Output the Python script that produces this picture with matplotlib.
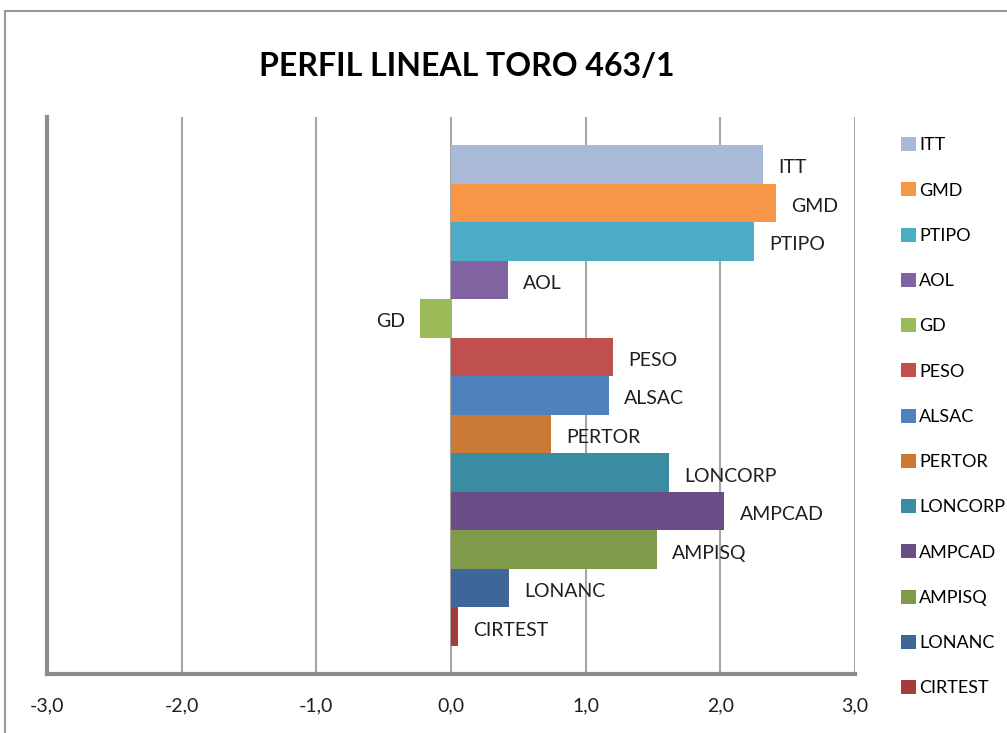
import matplotlib
matplotlib.use('Agg')
import matplotlib.pyplot as plt
from matplotlib.patches import Rectangle, Patch
import numpy as np

# datos del perfil lineal
rasgos = ['ITT', 'GMD', 'PTIPO', 'AOL', 'GD', 'PESO', 'ALSAC', 'PERTOR',
          'LONCORP', 'AMPCAD', 'AMPISQ', 'LONANC', 'CIRTEST']
valores = [2.32, 2.41, 2.25, 0.42, -0.23, 1.20, 1.17, 0.74,
           1.62, 2.03, 1.53, 0.43, 0.05]
colores = ['#A9B9D8', '#F79646', '#4BACC6', '#8064A2', '#9BBB59', '#C0504D',
           '#4F81BD', '#CB7A36', '#3A8CA2', '#6A4D87', '#7F9A48', '#3F6699',
           '#A33C3A']
xticks = [-3, -2, -1, 0, 1, 2, 3]
titulo = 'PERFIL LINEAL TORO 463/1'

plt.rcParams['font.family'] = ['Lato', 'DejaVu Sans']

fig = plt.figure(figsize=(10.07, 7.33), dpi=100)
ax = fig.add_axes([47 / 1007, 1 - 674 / 733, (855 - 47) / 1007, (674 - 117) / 733])

# marco exterior del grafico
fig.patches.append(Rectangle((5 / 1007, -0.1), 1.2, 1 - 11 / 733 + 0.1,
                             transform=fig.transFigure, fill=False,
                             edgecolor='#9A9A9A', linewidth=1.5))

y = np.arange(len(rasgos))
ax.barh(y, valores, height=1.0, color=colores, zorder=3)

for yi, v, nombre in zip(y, valores, rasgos):
    if v >= 0:
        ax.annotate(nombre, (v, yi), xytext=(11, -2.5), textcoords='offset points',
                    ha='left', va='center', fontsize=14, color='#1F1F1F')
    else:
        ax.annotate(nombre, (v, yi), xytext=(-11, -2.5), textcoords='offset points',
                    ha='right', va='center', fontsize=14, color='#1F1F1F')

ax.set_xlim(-3, 3)
ax.set_ylim(12.5 + 0.73, -0.5 - 0.73)
ax.set_xticks(xticks)
ax.set_xticklabels([f'{t:.1f}'.replace('.', ',') for t in xticks], fontsize=14,
                   color='#1F1F1F')
ax.set_yticks([])
ax.tick_params(axis='x', length=0, pad=17)
ax.grid(axis='x', color='#A6A6A6', linewidth=1.5, zorder=0)

for s in ['top', 'right']:
    ax.spines[s].set_visible(False)
for s in ['left', 'bottom']:
    ax.spines[s].set_color('#8C8C8C')
    ax.spines[s].set_linewidth(3)

fig.text(467 / 1007, 1 - 67 / 733, titulo, ha='center', va='center',
         fontsize=23, fontweight='bold', color='black')

handles = [Patch(facecolor=c, edgecolor='none') for c in colores]
fig.legend(handles, rasgos, loc='upper left', bbox_to_anchor=(894 / 1007, 1 - 130 / 733),
           frameon=False, fontsize=13, handlelength=0.8, handleheight=0.8,
           handletextpad=0.2, labelspacing=1.61, borderaxespad=0)

fig.savefig('out.png', dpi=100)
